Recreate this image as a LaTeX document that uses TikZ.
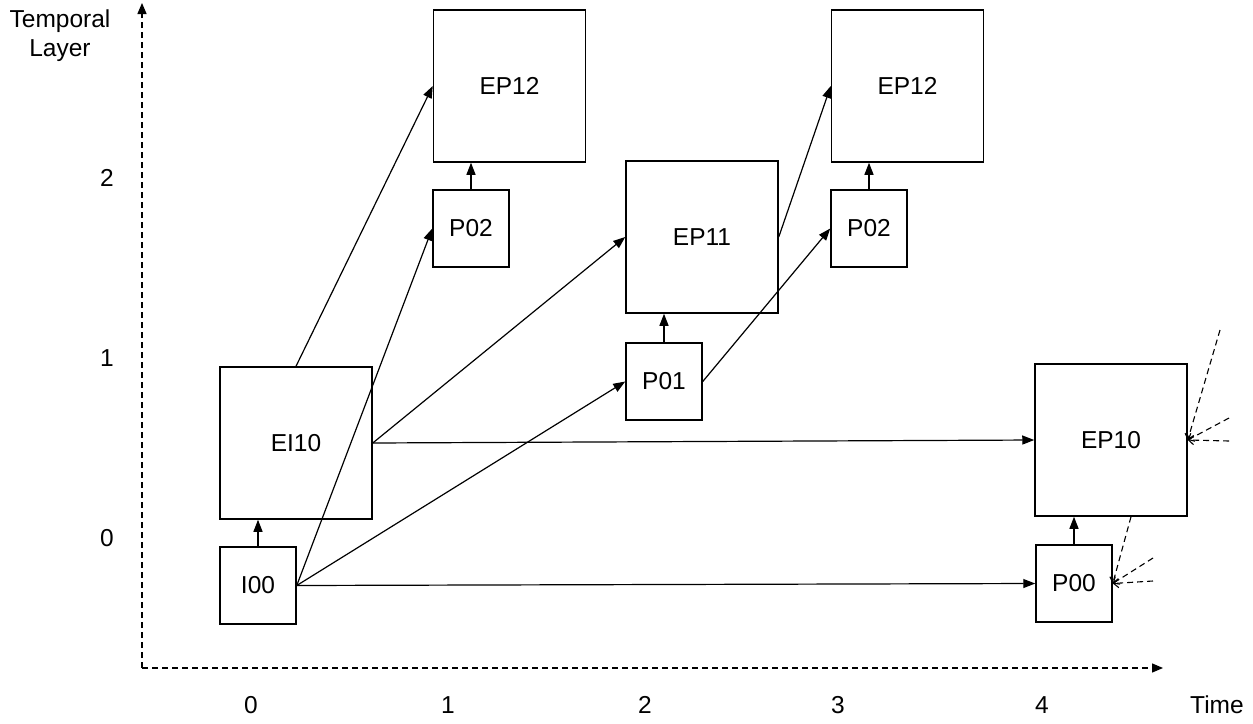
\documentclass[tikz,border=0pt]{standalone}
\usepackage{fontspec}
\setmainfont{Liberation Sans}
\usetikzlibrary{arrows.meta,calc}
\begin{document}
\begin{tikzpicture}[x=1pt,y=-1pt,
  every node/.style={font=\fontsize{24.5}{29}\selectfont},
  bigbox/.style={draw,line width=1.5pt,minimum width=152pt,minimum height=152pt,inner sep=0pt},
  smallbox/.style={draw,line width=1.5pt,minimum width=76pt,minimum height=77pt,inner sep=0pt},
  arr/.style={line width=1.2pt,-{Triangle[length=12pt,width=9pt]}},
  darr/.style={line width=1.1pt,dash pattern=on 6pt off 4pt,-{Straight Barb[length=5pt,width=9pt]}},
  axis/.style={line width=1.3pt,dash pattern=on 6pt off 4pt,-{Triangle[length=11pt,width=9pt]}},
  lbl/.style={inner sep=0pt,align=center}]
\useasboundingbox (0,0) rectangle (1253,723);
% axes
\coordinate (O) at (142,668);
\coordinate (ytop) at (142,3);
\coordinate (xend) at (1163,668);
\draw[axis] (O) -- (ytop);
\draw[axis] (O) -- (xend);
\node[lbl] (tl) at (60,36) {Temporal\\Layer};
\node[lbl] (y2) at (107,178) {2};
\node[lbl] (y1) at (107,358) {1};
\node[lbl] (y0) at (107,538) {0};
\node[lbl] (x0) at (251,705) {0};
\node[lbl] (x1) at (448,705) {1};
\node[lbl] (x2) at (645,705) {2};
\node[lbl] (x3) at (838,705) {3};
\node[lbl] (x4) at (1042,705) {4};
\node[lbl] (time) at (1217,705) {Time};
% boxes
\node[bigbox] (EP12a) at (509.5,86) {EP12};
\node[smallbox] (P02a) at (471,228.5) {P02};
\node[bigbox] (EP11) at (702,237) {EP11};
\node[smallbox] (P01) at (664,381.5) {P01};
\node[bigbox] (EP12b) at (907.5,86) {EP12};
\node[smallbox] (P02b) at (869,228.5) {P02};
\node[bigbox] (EI10) at (296,443) {EI10};
\node[smallbox] (I00) at (258,585.5) {I00};
\node[bigbox] (EP10) at (1111,440) {EP10};
\node[smallbox] (P00) at (1074,583.5) {P00};
% solid arrows
\draw[arr] (EI10.north) -- (EP12a.west);
\draw[arr] (I00.east) -- (P02a.west);
\draw[arr] (I00.east) -- (P01.west);
\draw[arr] (I00.east) -- (P00.west);
\draw[arr] (EI10.east) -- (EP11.west);
\draw[arr] (EI10.east) -- (EP10.west);
\draw[arr] (I00.north) -- (I00.north |- EI10.south);
\draw[arr] (P02a.north) -- (P02a.north |- EP12a.south);
\draw[arr] (P01.north) -- (P01.north |- EP11.south);
\draw[arr] (P02b.north) -- (P02b.north |- EP12b.south);
\draw[arr] (P00.north) -- (P00.north |- EP10.south);
\draw[arr] (EP11.east) -- (EP12b.west);
\draw[arr] (P01.east) -- (P02b.west);
% dashed stubs
\coordinate (d1) at (1220,330);
\coordinate (d2) at (1229,418);
\coordinate (d3) at (1229,441);
\draw[darr] (d1) -- (EP10.east);
\draw[darr] (d2) -- (EP10.east);
\draw[darr] (d3) -- (EP10.east);
\coordinate (e1) at ($(EP10.south)+(20,0)$);
\coordinate (e2) at (1153,558);
\coordinate (e3) at (1153,581);
\draw[darr] (e1) -- (P00.east);
\draw[darr] (e2) -- (P00.east);
\draw[darr] (e3) -- (P00.east);
\end{tikzpicture}
\end{document}
